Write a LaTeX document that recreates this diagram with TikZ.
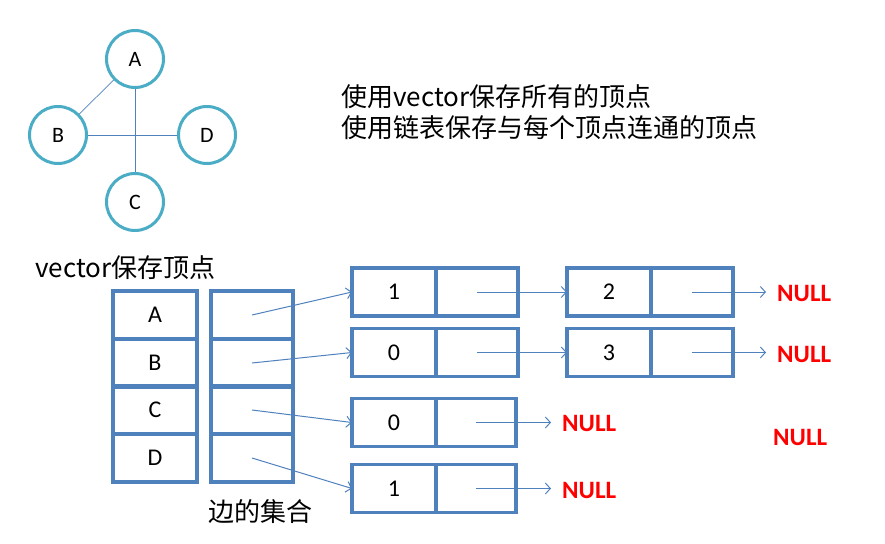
\documentclass[tikz,border=0pt]{standalone}
\usepackage{fontspec}
\setmainfont{Carlito}
\newfontfamily\cjk{Noto Sans CJK SC}
\usetikzlibrary{positioning,arrows.meta}
\definecolor{ringcol}{RGB}{75,172,198}
\definecolor{boxcol}{RGB}{79,129,189}
\definecolor{nullred}{RGB}{255,0,0}

\begin{document}
\begin{tikzpicture}[x=1pt,y=-1pt,>={Straight Barb[length=5pt,width=11pt]},
   vert/.style={circle,draw=ringcol,line width=3pt,minimum size=57pt,inner sep=0pt,
     font=\fontsize{22}{24}\selectfont},
   cell/.style={rectangle,draw=boxcol,line width=3.5pt,minimum width=84pt,minimum height=48pt,
     inner sep=0pt,outer sep=0pt,font=\fontsize{24}{26}\selectfont},
   edge/.style={draw=boxcol,line width=1pt},
   ptr/.style={->,draw=boxcol,line width=1pt},
   nul/.style={text=nullred,font=\fontsize{25}{27}\selectfont\bfseries,anchor=west,inner sep=0pt},
   cn/.style={font=\cjk\fontsize{26}{29}\selectfont,inner sep=0pt}]
  \useasboundingbox (0,0) rectangle (885,543);
  % the graph
  \node[vert] (A) at (135,59) {A};
  \node[vert] (B) at (58,135) {B};
  \node[vert] (C) at (135,202) {C};
  \node[vert] (D) at (207,135) {D};
  \draw[edge,line width=0.7pt] (A) -- (B);
  \draw[edge] (A) -- (C);
  \draw[edge] (B) -- (D);
  \node[cn,anchor=west] (t1) at (341,97) {使用vector保存所有的顶点};
  \node[cn,anchor=west] (t2) at (341,128) {使用链表保存与每个顶点连通的顶点};
  % vertex vector and edge lists
  \node[cn,anchor=west] (vlab) at (35,268) {vector保存顶点};
  \node[cell] (vA) at (155,315) {A};
  \node[cell] (vB) at (155,363) {B};
  \node[cell] (vC) at (155,410) {C};
  \node[cell] (vD) at (155,458) {D};
  \node[cell,minimum width=82pt] (eA) at (252,315) {};
  \node[cell,minimum width=82pt] (eB) at (252,363) {};
  \node[cell,minimum width=82pt] (eC) at (252,410) {};
  \node[cell,minimum width=82pt] (eD) at (252,458) {};
  \node[cn] (elab) at (260,512) {边的集合};
  % linked lists
  \node[cell] (d11) at (394,292) {1};
  \node[cell,minimum width=82pt,right=0pt of d11] (p11) {};
  \node[cell] (d12) at (609,292) {2};
  \node[cell,minimum width=82pt,right=0pt of d12] (p12) {};
  \node[cell] (d21) at (394,352.5) {0};
  \node[cell,minimum width=82pt,right=0pt of d21] (p21) {};
  \node[cell] (d22) at (609,352.5) {3};
  \node[cell,minimum width=82pt,right=0pt of d22] (p22) {};
  \node[cell] (d31) at (394,422.5) {0};
  \node[cell,minimum width=80pt,right=0pt of d31] (p31) {};
  \node[cell] (d41) at (394,488.5) {1};
  \node[cell,minimum width=80pt,right=0pt of d41] (p41) {};
  \node[nul] (n1) at (777,293) {NULL};
  \node[nul] (n2) at (777,354) {NULL};
  \node[nul] (n3) at (562,423) {NULL};
  \node[nul] (n4) at (562,490) {NULL};
  \node[nul] (n5) at (773,437) {NULL};
  \draw[ptr] (eA.center) -- (d11.west);
  \draw[ptr] (eB.center) -- (d21.west);
  \draw[ptr] (eC.center) -- (d31.west);
  \draw[ptr] (eD.center) -- (d41.west);
  \draw[ptr] (p11.center) -- (d12.west);
  \draw[ptr] (p21.center) -- (d22.west);
  \draw[ptr,shorten >=11pt] (p12.center) -- (p12.center -| n1.west);
  \draw[ptr,shorten >=11pt] (p22.center) -- (p22.center -| n2.west);
  \draw[ptr,shorten >=11pt] (p31.center) -- (p31.center -| n3.west);
  \draw[ptr,shorten >=11pt] (p41.center) -- (p41.center -| n4.west);
\end{tikzpicture}
\end{document}
